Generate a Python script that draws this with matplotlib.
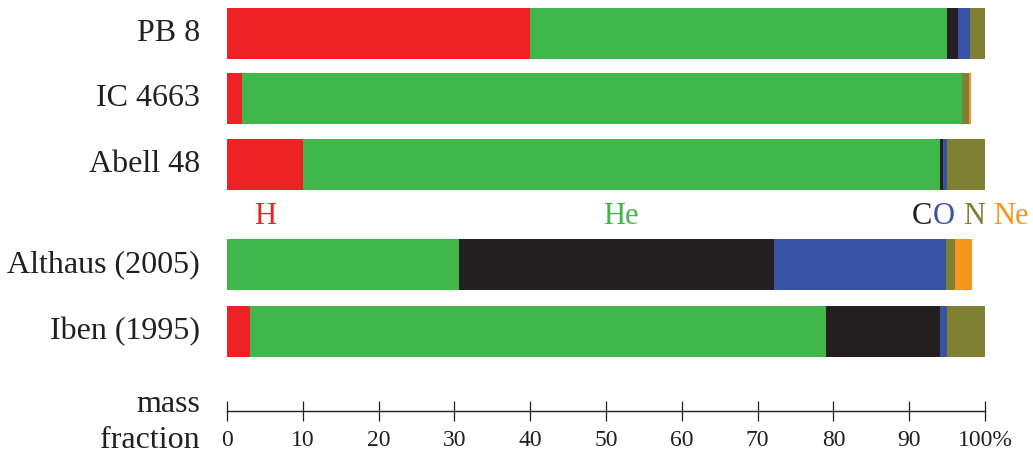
import matplotlib
matplotlib.use("Agg")
import matplotlib.pyplot as plt
import numpy as np

plt.rcParams['font.family'] = ['Liberation Serif', 'DejaVu Serif']

models = ["PB 8", "IC 4663", "Abell 48", "Althaus (2005)", "Iben (1995)"]
elements = ["H", "He", "C", "O", "N", "Ne"]
H  = [40.0, 2.0, 10.0, 0.0, 3.0]
He = [55.0, 95.0, 84.1, 30.6, 76.0]
C  = [1.5, 0.0, 0.3, 41.6, 15.0]
O  = [1.5, 0.0, 0.6, 22.7, 1.0]
N  = [2.0, 0.9, 5.0, 1.2, 5.0]
Ne = [0.0, 0.3, 0.0, 2.2, 0.0]
ticks = [0, 10, 20, 30, 40, 50, 60, 70, 80, 90, 100]
tick_labels = ["0", "10", "20", "30", "40", "50", "60", "70", "80", "90", "100%"]

colors = ["#EE2225", "#41B64B", "#231F20", "#3953A4", "#808034", "#F7941E"]
series = [H, He, C, O, N, Ne]

W, Hpx = 1033, 459
fig = plt.figure(figsize=(W / 100, Hpx / 100), dpi=100)

x0, x1 = 227, 985
ax = fig.add_axes([0, 0, 1, 1])
scale = 100.0 / (x1 - x0)
ax.set_xlim(-x0 * scale, (W - x0) * scale)
ax.set_ylim(Hpx, 0)
ax.axis('off')

ypos = [33.5, 98.5, 164.5, 264.5, 331.5]
bar_h = 51
left = np.zeros(len(models))
for vals, col in zip(series, colors):
    v = np.array(vals)
    ax.barh(ypos, v, left=left, height=bar_h, color=col, linewidth=0)
    left = left + v

for name, y in zip(models, ypos):
    ax.text(-27.0 / (x1 - x0) * 100 * 1.0, y, name, ha='right', va='center',
            fontsize=23, color='#231F20')

# element labels
label_x = [5.0, 52.0, 91.7, 94.6, 98.6, 103.4]
for el, xl, col in zip(elements, label_x, colors):
    ax.text(xl, 216, el, ha='center', va='center', fontsize=22, color=col)

ax.text(-27.0 * scale, 405, "mass", ha='right', va='center', fontsize=23, color='#231F20')
ax.text(-27.0 * scale, 441, "fraction", ha='right', va='center', fontsize=23, color='#231F20')

# bottom scale axis
yline = 411
ax2 = fig.add_axes([x0 / W, (Hpx - yline) / Hpx, (x1 - x0) / W, 0.001])
ax2.set_xlim(0, 100)
ax2.patch.set_alpha(0)
for s in ['top', 'left', 'right']:
    ax2.spines[s].set_visible(False)
ax2.spines['bottom'].set_color('#231F20')
ax2.spines['bottom'].set_linewidth(1.0)
ax2.set_yticks([])
ax2.set_xticks(ticks)
ax2.set_xticklabels(tick_labels, fontsize=17, color='#231F20')
ax2.tick_params(axis='x', direction='inout', length=15, width=0.9, color='#231F20', pad=6)

fig.savefig("out.png", dpi=100)
